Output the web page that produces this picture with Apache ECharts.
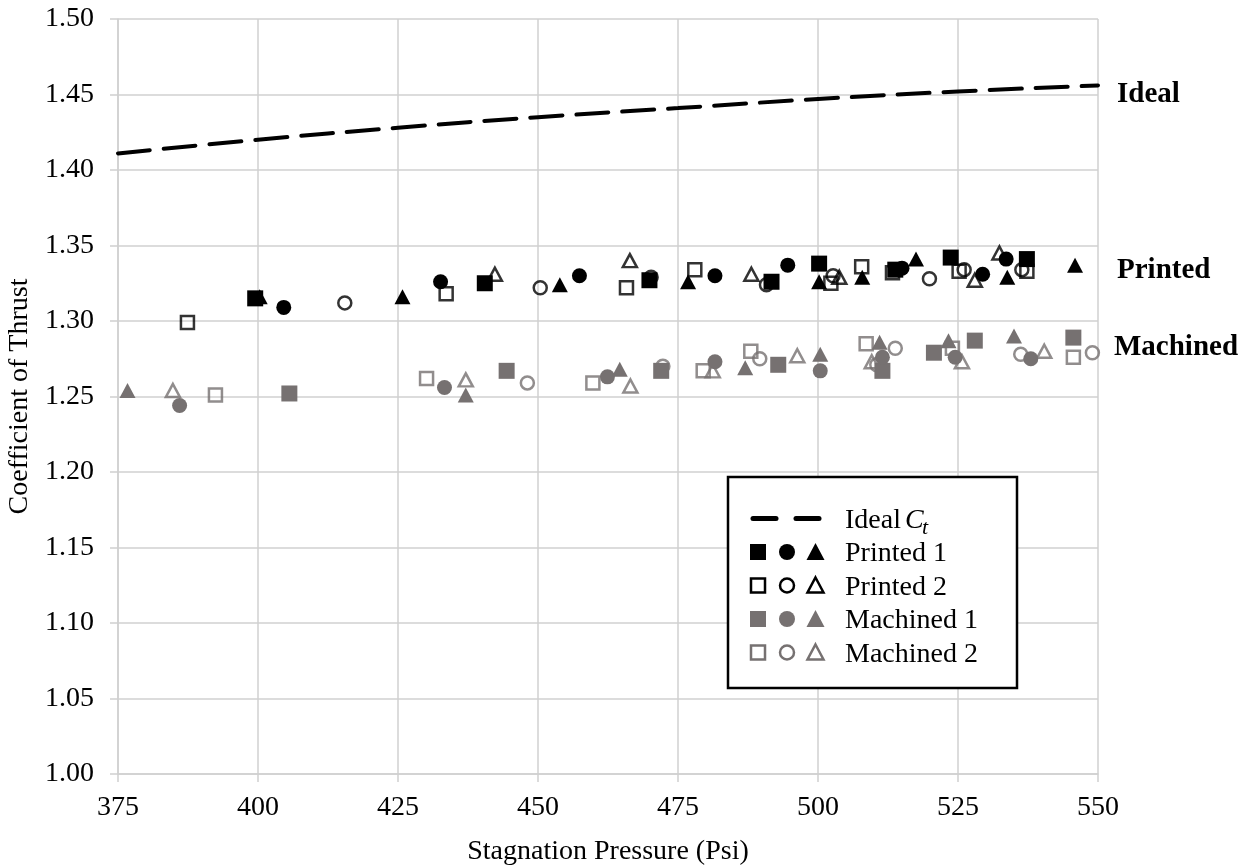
<!DOCTYPE html>
<html>
<head>
<meta charset="utf-8">
<title>Coefficient of Thrust</title>
<script src="https://cdn.jsdelivr.net/npm/echarts@6/dist/echarts.min.js"></script>
<style>
html, body { margin: 0; padding: 0; background: #fff; }
#main { width: 1254px; height: 867px; }
</style>
</head>
<body>
<div id="main"></div>
<script>
// axis ticks
var xTicks = [375, 400, 425, 450, 475, 500, 525, 550];
var yTicks = [1.00, 1.05, 1.10, 1.15, 1.20, 1.25, 1.30, 1.35, 1.40, 1.45, 1.50];

// ideal Ct line
var idealPressure = [375, 400, 425, 450, 475, 500, 525, 550];
var idealCt = [1.411, 1.420, 1.428, 1.435, 1.441, 1.447, 1.452, 1.456];

// Printed 1 (filled black)
var printed1Square = [[399.5, 1.315], [440.5, 1.325], [469.9, 1.327], [491.7, 1.326], [500.2, 1.338], [513.8, 1.334], [523.7, 1.342], [537.3, 1.341]];
var printed1Circle = [[404.6, 1.309], [432.6, 1.326], [457.4, 1.330], [481.6, 1.330], [494.6, 1.337], [515.0, 1.335], [529.4, 1.331], [533.6, 1.341]];
var printed1Triangle = [[400.3, 1.316], [425.8, 1.316], [453.9, 1.324], [476.8, 1.326], [500.2, 1.326], [507.9, 1.329], [517.5, 1.341], [533.8, 1.329], [545.9, 1.337]];

// Printed 2 (open black)
var printed2Square = [[387.4, 1.299], [433.6, 1.318], [465.8, 1.322], [478.0, 1.334], [502.3, 1.325], [507.8, 1.336], [513.3, 1.332], [525.2, 1.333], [537.3, 1.333]];
var printed2Circle = [[415.5, 1.312], [450.4, 1.322], [470.2, 1.329], [490.8, 1.324], [502.7, 1.330], [519.9, 1.328], [526.1, 1.334], [536.4, 1.334]];
var printed2Triangle = [[442.3, 1.331], [466.4, 1.340], [488.1, 1.331], [503.8, 1.329], [528.0, 1.327], [532.4, 1.345]];

// Machined 1 (filled grey)
var machined1Square = [[405.6, 1.252], [444.4, 1.267], [472.0, 1.267], [492.9, 1.271], [511.5, 1.267], [520.7, 1.279], [528.0, 1.287], [545.6, 1.289]];
var machined1Circle = [[386.0, 1.244], [433.3, 1.256], [462.4, 1.263], [481.6, 1.273], [500.4, 1.267], [511.5, 1.276], [524.5, 1.276], [538.0, 1.275]];
var machined1Triangle = [[376.7, 1.254], [437.1, 1.251], [464.6, 1.268], [487.0, 1.269], [500.4, 1.278], [511.0, 1.286], [523.3, 1.287], [535.0, 1.290]];

// Machined 2 (open grey)
var machined2Square = [[392.4, 1.251], [430.1, 1.262], [459.8, 1.259], [479.5, 1.267], [488.0, 1.280], [508.6, 1.285], [524.0, 1.282], [545.6, 1.276]];
var machined2Circle = [[448.1, 1.259], [472.3, 1.270], [489.6, 1.275], [510.5, 1.271], [513.8, 1.282], [536.2, 1.278], [549.0, 1.279]];
var machined2Triangle = [[384.8, 1.254], [437.1, 1.261], [466.5, 1.257], [481.2, 1.267], [496.3, 1.277], [509.6, 1.273], [525.7, 1.273], [540.4, 1.280]];

var BLACK = '#000000';
var GREY = '#767171';
var GRIDC = '#d0d0d0';
var FONT = 'Liberation Serif';

function dots(name, data, shape, color, hollow) {
  var size;
  if (shape === 'triangle') size = hollow ? [14, 13] : [16, 15];
  else size = hollow ? 13 : (shape === 'rect' ? 16 : 15);
  return {
    name: name,
    type: 'scatter',
    data: data,
    symbol: shape,
    symbolSize: size,
    itemStyle: hollow
      ? { color: 'rgba(0,0,0,0)', borderColor: color, borderWidth: 2.5 }
      : { color: color, opacity: 1 },
    emphasis: { disabled: true },
    z: hollow ? 3 : 4
  };
}

var linePts = idealPressure.map(function (p, i) { return [p, idealCt[i]]; });

// legend box drawn by hand (three markers per row)
var lg = { left: 728, top: 477, w: 289, h: 211 };
var rowsY = [518.5, 552, 585.5, 619, 652.5];
var mx = [758, 787, 815.5];
var legendItems = [
  { type: 'rect', shape: { x: lg.left, y: lg.top, width: lg.w, height: lg.h },
    style: { fill: '#fff', stroke: '#000', lineWidth: 2.5 } },
  { type: 'line', shape: { x1: 753, y1: rowsY[0], x2: 776, y2: rowsY[0] },
    style: { stroke: '#000', lineWidth: 5, lineCap: 'round' } },
  { type: 'line', shape: { x1: 796, y1: rowsY[0], x2: 819, y2: rowsY[0] },
    style: { stroke: '#000', lineWidth: 5, lineCap: 'round' } },
  { type: 'text', x: 845, y: rowsY[0] + 2, style: { text: 'Ideal', font: '28px "Liberation Serif"', fill: '#000', verticalAlign: 'middle' } },
  { type: 'text', x: 905, y: rowsY[0] + 2, style: { text: 'C', font: 'italic 28px "Liberation Serif"', fill: '#000', verticalAlign: 'middle' } },
  { type: 'text', x: 922, y: rowsY[0] + 10, style: { text: 't', font: 'italic 22px "Liberation Serif"', fill: '#000', verticalAlign: 'middle' } }
];
var rows = [
  { label: 'Printed 1', color: BLACK, hollow: false },
  { label: 'Printed 2', color: BLACK, hollow: true },
  { label: 'Machined 1', color: GREY, hollow: false },
  { label: 'Machined 2', color: GREY, hollow: true }
];
rows.forEach(function (r, i) {
  var cy = rowsY[i + 1];
  var st = r.hollow
    ? { fill: 'none', stroke: r.color, lineWidth: 2.5 }
    : { fill: r.color };
  var h = r.hollow ? 7 : 8;
  legendItems.push({ type: 'rect', shape: { x: mx[0] - h, y: cy - h, width: 2 * h, height: 2 * h }, style: st });
  legendItems.push({ type: 'circle', shape: { cx: mx[1], cy: cy, r: h }, style: st });
  legendItems.push({ type: 'polygon', shape: { points: [[mx[2], cy - h - 1], [mx[2] + h + 1, cy + h], [mx[2] - h - 1, cy + h]] }, style: st });
  legendItems.push({ type: 'text', x: 845, y: cy + 2, style: { text: r.label, font: '28px "Liberation Serif"', fill: '#000', verticalAlign: 'middle' } });
});

// group labels at the right edge
var sideLabels = [
  { text: 'Ideal', x: 1117, y: 95 },
  { text: 'Printed', x: 1117, y: 271 },
  { text: 'Machined', x: 1114, y: 348 }
];
sideLabels.forEach(function (s) {
  legendItems.push({ type: 'text', x: s.x, y: s.y,
    style: { text: s.text, font: 'bold 29px "Liberation Serif"', fill: '#000', verticalAlign: 'middle' } });
});

var chart = echarts.init(document.getElementById('main'));
chart.setOption({
  backgroundColor: '#fff',
  animation: false,
  grid: { left: 118, top: 19, right: 156, bottom: 93, outerBoundsMode: 'none', containLabel: false },
  xAxis: {
    type: 'value',
    min: xTicks[0],
    max: xTicks[xTicks.length - 1],
    interval: xTicks[1] - xTicks[0],
    name: 'Stagnation Pressure (Psi)',
    nameLocation: 'middle',
    nameGap: 64,
    nameTextStyle: { fontFamily: FONT, fontSize: 28, color: '#000' },
    axisLine: { lineStyle: { color: GRIDC, width: 1.5 } },
    axisTick: { show: true, length: 8, lineStyle: { color: GRIDC, width: 1.5 } },
    axisLabel: { fontFamily: FONT, fontSize: 28, color: '#000', margin: 20 },
    splitLine: { show: true, lineStyle: { color: GRIDC, width: 1.5 } }
  },
  yAxis: {
    type: 'value',
    min: yTicks[0],
    max: yTicks[yTicks.length - 1],
    interval: 0.05,
    name: 'Coefficient of Thrust',
    nameLocation: 'middle',
    nameRotate: 90,
    nameGap: 84,
    nameTextStyle: { fontFamily: FONT, fontSize: 28, color: '#000' },
    axisLine: { show: true, lineStyle: { color: GRIDC, width: 1.5 } },
    axisTick: { show: true, length: 8, lineStyle: { color: GRIDC, width: 1.5 } },
    axisLabel: { fontFamily: FONT, fontSize: 28, color: '#000', margin: 24,
      formatter: function (v) { return v.toFixed(2); } },
    splitLine: { show: true, lineStyle: { color: GRIDC, width: 1.5 } }
  },
  series: [
    {
      name: 'Ideal Ct', type: 'line', data: linePts, smooth: true,
      showSymbol: false, symbol: 'none',
      lineStyle: { color: '#000', width: 4, type: [32, 14], cap: 'round' },
      z: 2
    },
    dots('Printed 1', printed1Square, 'rect', BLACK, false),
    dots('Printed 1', printed1Circle, 'circle', BLACK, false),
    dots('Printed 1', printed1Triangle, 'triangle', BLACK, false),
    dots('Printed 2', printed2Square, 'rect', BLACK, true),
    dots('Printed 2', printed2Circle, 'circle', BLACK, true),
    dots('Printed 2', printed2Triangle, 'triangle', BLACK, true),
    dots('Machined 1', machined1Square, 'rect', GREY, false),
    dots('Machined 1', machined1Circle, 'circle', GREY, false),
    dots('Machined 1', machined1Triangle, 'triangle', GREY, false),
    dots('Machined 2', machined2Square, 'rect', GREY, true),
    dots('Machined 2', machined2Circle, 'circle', GREY, true),
    dots('Machined 2', machined2Triangle, 'triangle', GREY, true)
  ],
  graphic: { elements: legendItems.map(function (e) { e.z = 100; return e; }) }
});
</script>
</body>
</html>
